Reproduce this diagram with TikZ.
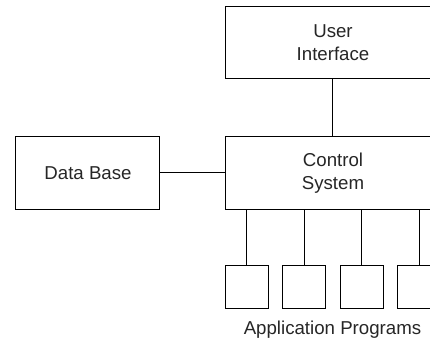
\documentclass[tikz,border=0pt]{standalone}
\usepackage{fontspec}
\setmainfont{Liberation Sans}
\begin{document}
\begin{tikzpicture}[x=0.75pt,y=-0.75pt,
  box/.style={draw,line width=0.75pt,rectangle,inner sep=0pt,align=center,
    font=\fontsize{14}{17.3}\selectfont,text=black!85},
  bigbox/.style={box,minimum width=160.5pt,minimum height=54.5pt},
  appbox/.style={box,minimum width=32.25pt,minimum height=32.25pt},
  link/.style={line width=0.75pt}]
\useasboundingbox (0,0) rectangle (430,341);
\clip (0,0) rectangle (430,341);
\node[bigbox] (ui) at (333,42.5) {User\\Interface};
\node[bigbox] (cs) at (333,173) {Control\\System};
\node[box,minimum width=108pt,minimum height=54.5pt] (db) at (88,173) {Data Base};
\node[appbox] (a1) at (247,287.5) {};
\node[appbox] (a2) at (304.5,287.5) {};
\node[appbox] (a3) at (362,287.5) {};
\node[appbox] (a4) at (419.5,287.5) {};
\node[font=\fontsize{14}{17}\selectfont,text=black!85,anchor=base] (ap) at (332.5,335) {Application Programs};
\draw[link] (ui) -- (cs);
\draw[link] (db) -- (cs);
\foreach \i in {1,2,3,4} \draw[link] (a\i.north) -- (a\i.north |- cs.south);
\end{tikzpicture}
\end{document}
